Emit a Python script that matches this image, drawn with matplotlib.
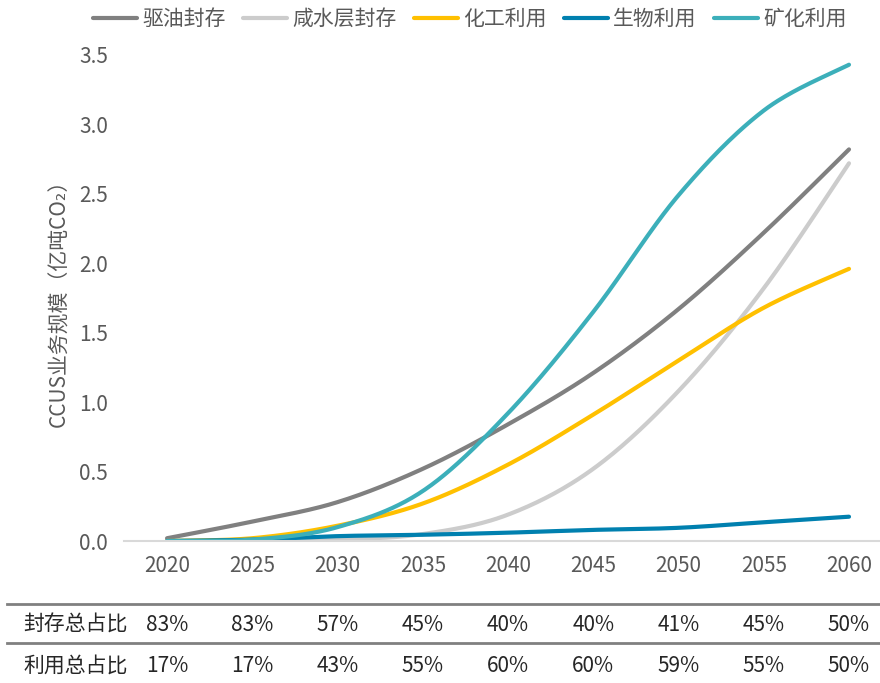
import matplotlib
matplotlib.use("Agg")
import matplotlib.pyplot as plt
from matplotlib.lines import Line2D
from matplotlib.transforms import blended_transform_factory
import numpy as np

plt.rcParams['font.family'] = ['Noto Sans CJK SC', 'DejaVu Sans']

# data
years = [2020, 2025, 2030, 2035, 2040, 2045, 2050, 2055, 2060]
eor = [0.02, 0.14, 0.28, 0.52, 0.84, 1.21, 1.67, 2.22, 2.82]      # 驱油封存
saline = [0.0, 0.0, 0.01, 0.05, 0.19, 0.52, 1.08, 1.82, 2.72]    # 咸水层封存
chem = [0.0, 0.02, 0.11, 0.27, 0.55, 0.91, 1.30, 1.68, 1.96]     # 化工利用
bio = [0.0, 0.01, 0.035, 0.045, 0.06, 0.08, 0.095, 0.135, 0.175]  # 生物利用
mineral = [0.0, 0.01, 0.10, 0.36, 0.92, 1.65, 2.49, 3.10, 3.43]  # 矿化利用

series_names = ['驱油封存', '咸水层封存', '化工利用', '生物利用', '矿化利用']
colors = ['#808080', '#CCCCCC', '#FFC000', '#0080AF', '#3CAFBA']

storage_share = ['83%', '83%', '57%', '45%', '40%', '40%', '41%', '45%', '50%']
use_share = ['17%', '17%', '43%', '55%', '60%', '60%', '59%', '55%', '50%']
row_names = ['封存总占比', '利用总占比']


def smooth(x, y, n=40):
    # excel-like smoothed line: cubic bezier, catmull-rom control points
    x = np.asarray(x, float)
    y = np.asarray(y, float)
    px = np.concatenate([[x[0]], x, [x[-1]]])
    py = np.concatenate([[y[0]], y, [y[-1]]])
    t = np.linspace(0, 1, n)[:, None]
    xs, ys = [], []
    for i in range(1, len(px) - 2):
        p0 = np.array([px[i], py[i]])
        p3 = np.array([px[i + 1], py[i + 1]])
        c1 = p0 + (np.array([px[i + 1], py[i + 1]]) - np.array([px[i - 1], py[i - 1]])) / 6
        c2 = p3 - (np.array([px[i + 2], py[i + 2]]) - np.array([px[i], py[i]])) / 6
        pts = ((1 - t) ** 3) * p0 + 3 * ((1 - t) ** 2) * t * c1 + 3 * (1 - t) * t ** 2 * c2 + t ** 3 * p3
        xs.append(pts[:, 0])
        ys.append(pts[:, 1])
    return np.concatenate(xs), np.concatenate(ys)


fig = plt.figure(figsize=(8.8, 6.83), dpi=100)
ax = fig.add_axes([0.1414, 0.2079, 0.8718, 0.7116])

for vals, name, c in zip([eor, saline, chem, bio, mineral], series_names, colors):
    sx, sy = smooth(years, vals)
    ax.plot(sx, sy, color=c, lw=3, label=name, solid_capstyle='round')

ax.set_xlim(2017.5, 2062.5)
ax.set_ylim(0, 3.5)
ax.set_xticks(years)
ax.set_yticks(np.arange(0, 3.51, 0.5))
ax.yaxis.set_major_formatter(matplotlib.ticker.FormatStrFormatter('%.1f'))
ax.tick_params(length=0, labelsize=15, colors='#595959')
ax.tick_params(axis='y', pad=12)
ax.tick_params(axis='x', pad=10)
for s in ['top', 'right', 'left']:
    ax.spines[s].set_visible(False)
ax.spines['bottom'].set_color('#D9D9D9')
ax.spines['bottom'].set_linewidth(1.5)

ax.set_ylabel('CCUS业务规模（亿吨CO₂）', fontsize=15, color='#595959', labelpad=6)

fig.legend(loc='center', bbox_to_anchor=(0.534, 0.972), ncol=5, frameon=False,
           fontsize=15, labelcolor='#595959', handlelength=2.1, handletextpad=0.25,
           columnspacing=0.85)

# share table under the chart
tr = blended_transform_factory(ax.transData, fig.transFigure)
for yl in [1 - 604 / 683, 1 - 643 / 683]:
    fig.add_artist(Line2D([7 / 880, 1], [yl, yl], color='#808080', lw=2, transform=fig.transFigure))

row_y = [1 - 625 / 683, 1 - 666 / 683]
for ry, rname, vals in zip(row_y, row_names, [storage_share, use_share]):
    fig.text(23 / 880, ry, rname, fontsize=15, color='#262626', va='center', ha='left')
    for yr, v in zip(years, vals):
        fig.text(yr, ry, v, fontsize=15, color='#262626', va='center', ha='center', transform=tr)

fig.savefig('out.png', dpi=100)
